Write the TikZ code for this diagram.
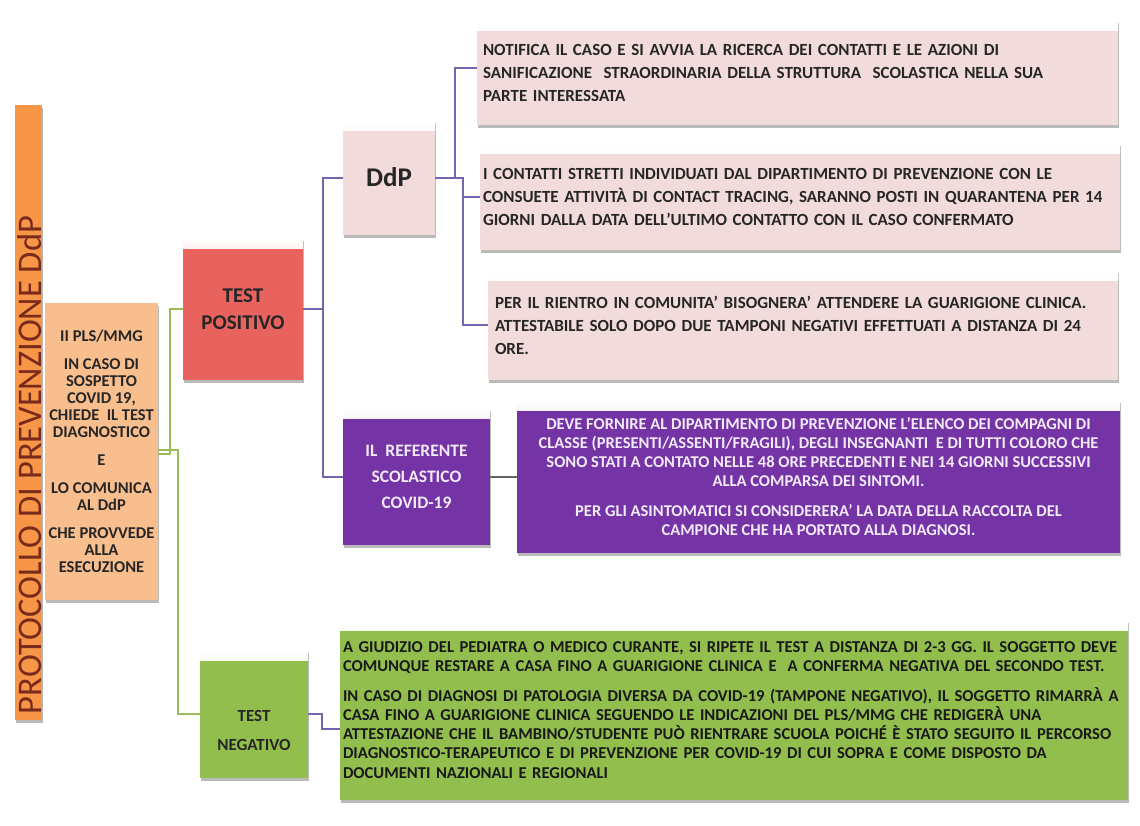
\documentclass[tikz,border=0pt]{standalone}
\usepackage{fontspec}
\setmainfont{Carlito}
\usetikzlibrary{shadows,calc}
\definecolor{barorange}{HTML}{F79646}
\definecolor{titlered}{HTML}{7A2A1C}
\definecolor{peach}{HTML}{F9BE8E}
\definecolor{posred}{HTML}{E8625E}
\definecolor{pinkbox}{HTML}{F2DCDB}
\definecolor{purplebox}{HTML}{7434A6}
\definecolor{greenbox}{HTML}{92BE4E}
\definecolor{greenline}{HTML}{9BBB59}
\definecolor{purpleline}{HTML}{7664AE}
\definecolor{darktext}{HTML}{262626}
\definecolor{lighttext}{HTML}{F2EAF8}
\begin{document}
\begin{tikzpicture}[x=1pt,y=-1pt,
  box/.style={inner sep=0pt, outer sep=0pt, align=center,
    drop shadow={shadow xshift=1pt, shadow yshift=-2.5pt, fill=black!45, opacity=0.6}},
  bevel/.style={path picture={\shade[top color=white, bottom color=#1]
      (path picture bounding box.north west) rectangle ([yshift=-10pt]path picture bounding box.north east);}},
  gline/.style={draw=greenline, line width=2pt},
  pline/.style={draw=purpleline, line width=2pt},
  bodytext/.style={font=\fontsize{17}{23}\selectfont\bfseries, text=darktext},
]
\useasboundingbox (0,0) rectangle (1140,825);

% orange vertical bar
\node[box, fill=barorange, minimum width=27pt, minimum height=615pt] (bar) at (28.5,412.5) {};
\node[rotate=90, text=titlered, font=\fontsize{34.5}{35}\selectfont] (title) at (29.5,465) {PROTOCOLLO DI PREVENZIONE DdP};

% peach box
\node[box, fill=peach, minimum width=113pt, minimum height=297pt,
  font=\fontsize{16.5}{17}\selectfont\bfseries, text=darktext] (pls) at (101.5,451.5)
  {II PLS/MMG\\[11pt] IN CASO DI\\ SOSPETTO\\ COVID 19,\\ CHIEDE \ IL TEST\\ DIAGNOSTICO\\[11pt] E\\[11pt] LO COMUNICA\\ AL DdP\\[11pt] CHE PROVVEDE\\ ALLA\\ ESECUZIONE};

% test positivo
\node[box, fill=posred, bevel=posred, minimum width=120pt, minimum height=142pt,
  font=\fontsize{21}{27}\selectfont\bfseries, text=black!85] (pos) at (243,309) {TEST\\POSITIVO};

% test negativo
\node[box, fill=greenbox, bevel=greenbox, minimum width=108pt, minimum height=128pt,
  font=\fontsize{17}{29}\selectfont\bfseries, text=darktext] (neg) at (254,714) {\\[16pt]TEST\\NEGATIVO};

% DdP
\node[box, fill=pinkbox, bevel=pinkbox, minimum width=92pt, minimum height=115pt,
  font=\fontsize{27}{28}\selectfont\bfseries, text=darktext] (ddp) at (389,177.5) {DdP};

% referente
\node[box, fill=purplebox, bevel=purplebox!70!white, minimum width=147pt, minimum height=137pt,
  font=\fontsize{17.5}{26}\selectfont\bfseries, text=lighttext] (ref) at (416.5,476.5)
  {IL \ REFERENTE\\ SCOLASTICO\\ COVID-19};

% pink text boxes
\node[box, fill=pinkbox, bevel=pinkbox, minimum width=641pt, minimum height=105pt,
  align=left, bodytext, text width=629pt] (n1) at (797.5,72.5)
  {NOTIFICA IL CASO E SI AVVIA LA RICERCA DEI CONTATTI E LE AZIONI DI\\
   SANIFICAZIONE \ STRAORDINARIA DELLA STRUTTURA \ SCOLASTICA NELLA SUA\\
   PARTE INTERESSATA\\[8pt]};
\node[box, fill=pinkbox, bevel=pinkbox, minimum width=640pt, minimum height=107pt,
  align=left, bodytext, text width=634pt] (n2) at (800,196.5)
  {I CONTATTI STRETTI INDIVIDUATI DAL DIPARTIMENTO DI PREVENZIONE CON LE\\
   CONSUETE ATTIVITÀ DI CONTACT TRACING, SARANNO POSTI IN QUARANTENA PER 14\\
   GIORNI DALLA DATA DELL’ULTIMO CONTATTO CON IL CASO CONFERMATO};
\node[box, fill=pinkbox, bevel=pinkbox, minimum width=630pt, minimum height=110pt,
  align=left, bodytext, text width=616pt] (n3) at (803,325)
  {PER IL RIENTRO IN COMUNITA' BISOGNERA' ATTENDERE LA GUARIGIONE CLINICA.\\
   ATTESTABILE SOLO DOPO DUE TAMPONI NEGATIVI EFFETTUATI A DISTANZA DI 24\\
   ORE.};

% purple text box
\node[box, fill=purplebox, bevel=purplebox!70!white, minimum width=603pt, minimum height=153pt,
  font=\fontsize{16.5}{19}\selectfont\bfseries, text=lighttext] (reftxt) at (818.5,476.5)
  {DEVE FORNIRE AL DIPARTIMENTO DI PREVENZIONE L'ELENCO DEI COMPAGNI DI\\
   CLASSE (PRESENTI/ASSENTI/FRAGILI), DEGLI INSEGNANTI \ E DI TUTTI COLORO CHE\\
   SONO STATI A CONTATO NELLE 48 ORE PRECEDENTI E NEI 14 GIORNI SUCCESSIVI\\
   ALLA COMPARSA DEI SINTOMI.\\[11pt]
   PER GLI ASINTOMATICI SI CONSIDERERA' LA DATA DELLA RACCOLTA DEL\\
   CAMPIONE CHE HA PORTATO ALLA DIAGNOSI.};

% green text box
\node[box, fill=greenbox, bevel=greenbox, minimum width=788pt, minimum height=180pt,
  align=left, text width=782pt, font=\fontsize{16.6}{19.3}\selectfont\bfseries, text=black!90] (negtxt) at (734,710)
  {A GIUDIZIO DEL PEDIATRA O MEDICO CURANTE, SI RIPETE IL TEST A DISTANZA DI 2-3 GG. IL SOGGETTO DEVE\\
   COMUNQUE RESTARE A CASA FINO A GUARIGIONE CLINICA E \ A CONFERMA NEGATIVA DEL SECONDO TEST.\\[10pt]
   IN CASO DI DIAGNOSI DI PATOLOGIA DIVERSA DA COVID-19 (TAMPONE NEGATIVO), IL SOGGETTO RIMARRÀ A\\
   CASA FINO A GUARIGIONE CLINICA SEGUENDO LE INDICAZIONI DEL PLS/MMG CHE REDIGERÀ UNA\\
   ATTESTAZIONE CHE IL BAMBINO/STUDENTE PUÒ RIENTRARE SCUOLA POICHÉ È STATO SEGUITO IL PERCORSO\\
   DIAGNOSTICO-TERAPEUTICO E DI PREVENZIONE PER COVID-19 DI CUI SOPRA E COME DISPOSTO DA\\
   DOCUMENTI NAZIONALI E REGIONALI};

% green connectors
\draw[gline] ([yshift=-2pt]pls.east) -- ++(12,0) |- (pos.west);
\draw[gline] ([yshift=2pt]pls.east) -- ++(20,0) |- (neg.west);

% purple connectors
\draw[pline] (pos.east) -- ++(20,0) |- (ddp.west);
\draw[pline] (pos.east) -- ++(20,0) |- (ref.west);
\draw[pline] (ddp.east) -- ++(20,0) |- ($(n1.west)+(0,-5)$);
\draw[pline] (ddp.east) -- ++(28,0) |- (n2.west);
\draw[pline] (ddp.east) -- ++(28,0) |- (n3.west);
\draw[draw=black!60, line width=2pt] (ref.east) -- (reftxt.west);
\draw[pline] (neg.east) -- ++(14,0) |- ($(negtxt.west)+(0,19)$);
\end{tikzpicture}
\end{document}
